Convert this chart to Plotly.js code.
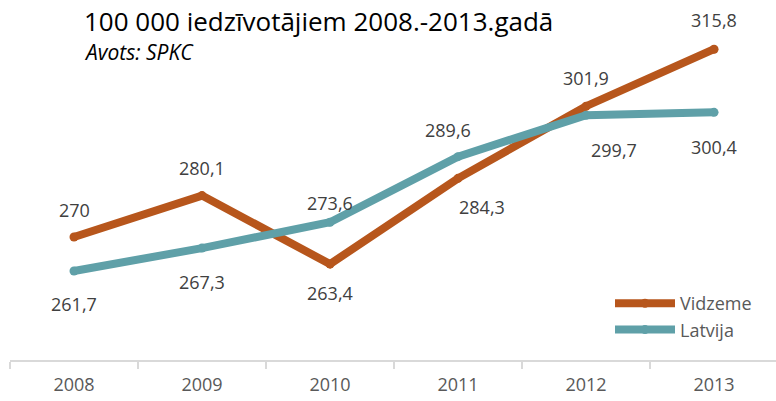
<!DOCTYPE html>
<html>
<head>
<meta charset="utf-8">
<script src="https://cdn.plot.ly/plotly-3.0.1.min.js"></script>
<style>html,body{margin:0;padding:0;overflow:hidden;background:#fff;}</style>
</head>
<body>
<div id="chart" style="width:776px;height:401px;"></div>
<script>
var years = ['2008', '2009', '2010', '2011', '2012', '2013'];
var vidzeme = [270, 280.1, 263.4, 284.3, 301.9, 315.8];
var latvija = [261.7, 267.3, 273.6, 289.6, 299.7, 300.4];
var seriesNames = ['Vidzeme', 'Latvija'];
var titleText = '100 000 iedzīvotājiem 2008.-2013.gadā';
var sourceText = 'Avots: SPKC';

// label offsets (pixels) per point
var vShiftX = [0, 0, 0, 24, 0, 0];
var vShiftY = [27, 28, -29, -29, 28, 29];
var lShiftX = [0, 0, 0, -10, 28, 0];
var lShiftY = [-33, -34, 19, 27, -35, -35];

var FONT = 'Open Sans, sans-serif';
var cV = '#B7561C', cL = '#5FA0A8';

function fmt(v) { return String(v).replace('.', ','); }

var traces = [
  {x: years, y: vidzeme, name: seriesNames[0], type: 'scatter', mode: 'lines+markers',
   line: {color: cV, width: 8}, marker: {color: cV, size: 9}},
  {x: years, y: latvija, name: seriesNames[1], type: 'scatter', mode: 'lines+markers',
   line: {color: cL, width: 8}, marker: {color: cL, size: 9}}
];

var ann = [];
years.forEach(function (yr, i) {
  ann.push({x: i, y: vidzeme[i], text: fmt(vidzeme[i]), showarrow: false,
    xshift: vShiftX[i], yshift: vShiftY[i], font: {family: FONT, size: 18, color: '#404040'}});
  ann.push({x: i, y: latvija[i], text: fmt(latvija[i]), showarrow: false,
    xshift: lShiftX[i], yshift: lShiftY[i], font: {family: FONT, size: 18, color: '#404040'}});
});
ann.push({xref: 'paper', yref: 'paper', x: (82 - 10) / 766, y: 1 + (32 - 21) / 328,
  xanchor: 'left', yanchor: 'middle', showarrow: false, text: titleText,
  font: {family: FONT, size: 26, color: '#000000'}});
ann.push({xref: 'paper', yref: 'paper', x: (82 - 10) / 766, y: 1 - (52 - 32) / 328,
  xanchor: 'left', yanchor: 'middle', showarrow: false, text: '<i>' + sourceText + '</i>',
  font: {family: FONT, size: 21, color: '#000000'}});

var layout = {
  width: 776, height: 401,
  margin: {l: 10, r: 0, t: 32, b: 41},
  paper_bgcolor: '#ffffff', plot_bgcolor: '#ffffff',
  showlegend: true,
  legend: {x: (757 - 10) / 766, xanchor: 'right', y: 1 - (285 - 32) / 328, yanchor: 'top',
    font: {family: FONT, size: 18, color: '#595959'}, itemwidth: 60,
    bgcolor: 'rgba(0,0,0,0)', tracegroupgap: 0},
  xaxis: {type: 'category', range: [-0.5, 5.484], tickson: 'boundaries',
    ticks: 'outside', ticklen: 7, tickwidth: 2, tickcolor: '#d9d9d9',
    showline: true, linecolor: '#d9d9d9', linewidth: 2, showgrid: false, zeroline: false,
    ticklabelstandoff: 7,
    tickfont: {family: FONT, size: 18, color: '#595959'}, fixedrange: true},
  yaxis: {range: [240, 320], visible: false, fixedrange: true},
  annotations: ann,
  font: {family: FONT}
};

Plotly.newPlot('chart', traces, layout, {displayModeBar: false, staticPlot: true});
</script>
</body>
</html>
